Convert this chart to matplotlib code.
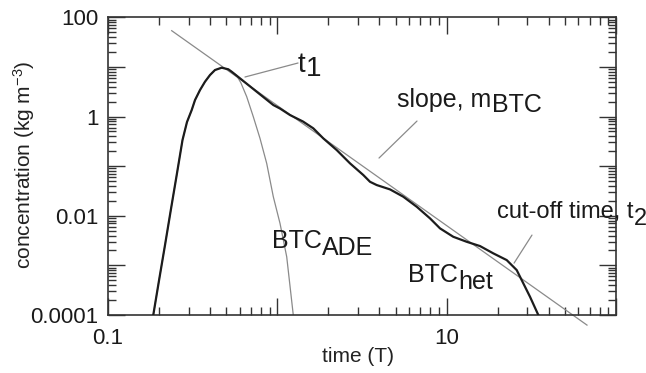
import matplotlib
matplotlib.use("Agg")
import matplotlib.pyplot as plt
from matplotlib.ticker import FixedLocator, NullFormatter, LogLocator

plt.rcParams['font.family'] = ['Liberation Sans', 'DejaVu Sans']
plt.rcParams['mathtext.fontset'] = 'custom'
plt.rcParams['mathtext.rm'] = 'Liberation Sans'
plt.rcParams['mathtext.it'] = 'Liberation Sans'

# --- data ---
het_time = [0.1851, 0.2003, 0.2171, 0.2349, 0.2545, 0.2754, 0.2927, 0.3121, 0.3265,
            0.3494, 0.3739, 0.4004, 0.4284, 0.4693, 0.5135, 0.5376, 0.6017, 0.7555,
            0.9467, 1.037, 1.188, 1.418, 1.631, 1.868, 2.242, 2.687, 3.219, 3.526,
            3.862, 4.628, 5.545, 6.655, 7.971, 9.135, 10.94, 13.13, 15.74, 18.86,
            22.62, 25.92, 28.36, 31.06, 34.77]
het_conc = [1.0e-4, 5.06e-4, 2.565e-3, 0.01303, 0.0662, 0.3357, 0.7745, 1.352, 2.15,
            3.42, 5.03, 6.87, 8.66, 9.64, 8.95, 8.00, 5.89, 3.16,
            1.706, 1.449, 1.072, 0.793, 0.578, 0.363, 0.211, 0.1138, 0.0662, 0.0484,
            0.0416, 0.0340, 0.0242, 0.0152, 8.87e-3, 5.57e-3, 3.77e-3, 2.99e-3,
            2.45e-3, 1.746e-3, 1.279e-3, 8.04e-4, 4.34e-4, 2.33e-4, 1.0e-4]

ade_time = [0.1851, 0.2003, 0.2171, 0.2349, 0.2545, 0.2754, 0.2927, 0.3121, 0.3265,
            0.3494, 0.3739, 0.4004, 0.4284, 0.4693, 0.5135, 0.5376, 0.5754, 0.610,
            0.6594, 0.7212, 0.790, 0.8653, 0.9467, 1.037, 1.136, 1.242]
ade_conc = [1.0e-4, 5.06e-4, 2.565e-3, 0.01303, 0.0662, 0.3357, 0.7745, 1.352, 2.15,
            3.42, 5.03, 6.87, 8.66, 9.64, 8.95, 8.00, 6.71, 4.73,
            2.51, 0.991, 0.363, 0.1138, 0.0242, 7.03e-3, 1.49e-3, 1.0e-4]

slope_time = [0.2378, 67.4]
slope_conc = [53.7, 6.26e-5]

# annotation pointer segments: (start near curve), (end at label)
t1_ptr = [(0.644, 6.26), (1.325, 11.99)]
slope_ptr = [(3.985, 0.1456), (6.68, 0.811)]
t2_ptr = [(25.0, 1.11e-3), (31.9, 4.08e-3)]

x_ticks = [0.1, 1, 10, 100]
x_ticklabels = ['0.1', '', '10', '']
y_ticks = [1e-4, 1e-3, 1e-2, 1e-1, 1, 10, 100]
y_ticklabels = ['0.0001', '', '0.01', '', '1', '', '100']

W, H = 646, 373
fig = plt.figure(figsize=(W / 100, H / 100), dpi=100)
ax = fig.add_axes([108 / W, 1 - 315 / H, 508 / W, 297.7 / H])
ax.set_xscale('log')
ax.set_yscale('log')
ax.set_xlim(0.1, 100)
ax.set_ylim(1e-4, 100)

gray = '#8a8a8a'
ink = '#1c1c1c'
ax.plot(slope_time, slope_conc, color=gray, lw=0.9, clip_on=False, zorder=2)
ax.plot(ade_time, ade_conc, color=gray, lw=0.9, zorder=2)
ax.plot(het_time, het_conc, color=ink, lw=1.6, zorder=3,
        solid_joinstyle='round')

for seg in (t1_ptr, slope_ptr, t2_ptr):
    ax.annotate('', xy=seg[0], xytext=seg[1],
                arrowprops=dict(arrowstyle='-', color=gray, lw=0.9,
                                shrinkA=0, shrinkB=0))

ax.xaxis.set_major_locator(FixedLocator(x_ticks))
ax.set_xticklabels(x_ticklabels)
ax.xaxis.set_minor_locator(LogLocator(base=10, subs=range(2, 10), numticks=20))
ax.xaxis.set_minor_formatter(NullFormatter())
ax.yaxis.set_major_locator(FixedLocator(y_ticks))
ax.set_yticklabels(y_ticklabels)
ax.yaxis.set_minor_locator(LogLocator(base=10, subs=range(2, 10), numticks=20))
ax.yaxis.set_minor_formatter(NullFormatter())

ax.tick_params(which='both', direction='in', top=True, right=True, color='#333333',
               width=1.0, labelcolor='#1a1a1a')
ax.tick_params(which='major', length=12, labelsize=16, pad=7)
ax.tick_params(which='minor', length=6)
ax.tick_params(axis='x', which='major', pad=9)
for s in ax.spines.values():
    s.set_color('#333333')
    s.set_linewidth(1.2)

fig.text(24 / W, 1 - 165 / H, 'concentration (kg m$^{-3}$)', rotation=90,
         ha='center', va='center', fontsize=15, color='#222222')
fig.text(358 / W, 1 - 356 / H, 'time (T)', ha='center', va='center', fontsize=15,
         color='#222222')


def sub_label(xpx, ypx, main, sub, size, drop):
    t = fig.text(xpx / W, 1 - ypx / H, main, ha='left', va='baseline',
                 fontsize=size, color='#1a1a1a')
    ax.annotate(sub, xy=(1, 0), xycoords=t, xytext=(0.3, -drop),
                textcoords='offset points', ha='left', va='bottom',
                fontsize=size, color='#1a1a1a', annotation_clip=False)


sub_label(298, 72, 't', '1', 20, 3)
sub_label(397, 107, 'slope, m', 'BTC', 18, 3.5)
sub_label(497, 218, 'cut-off time, t', '2', 17, 5)
sub_label(272, 248, 'BTC', 'ADE', 18, 5)
sub_label(408, 282, 'BTC', 'het', 18, 5)

fig.savefig('out.png', dpi=100)
